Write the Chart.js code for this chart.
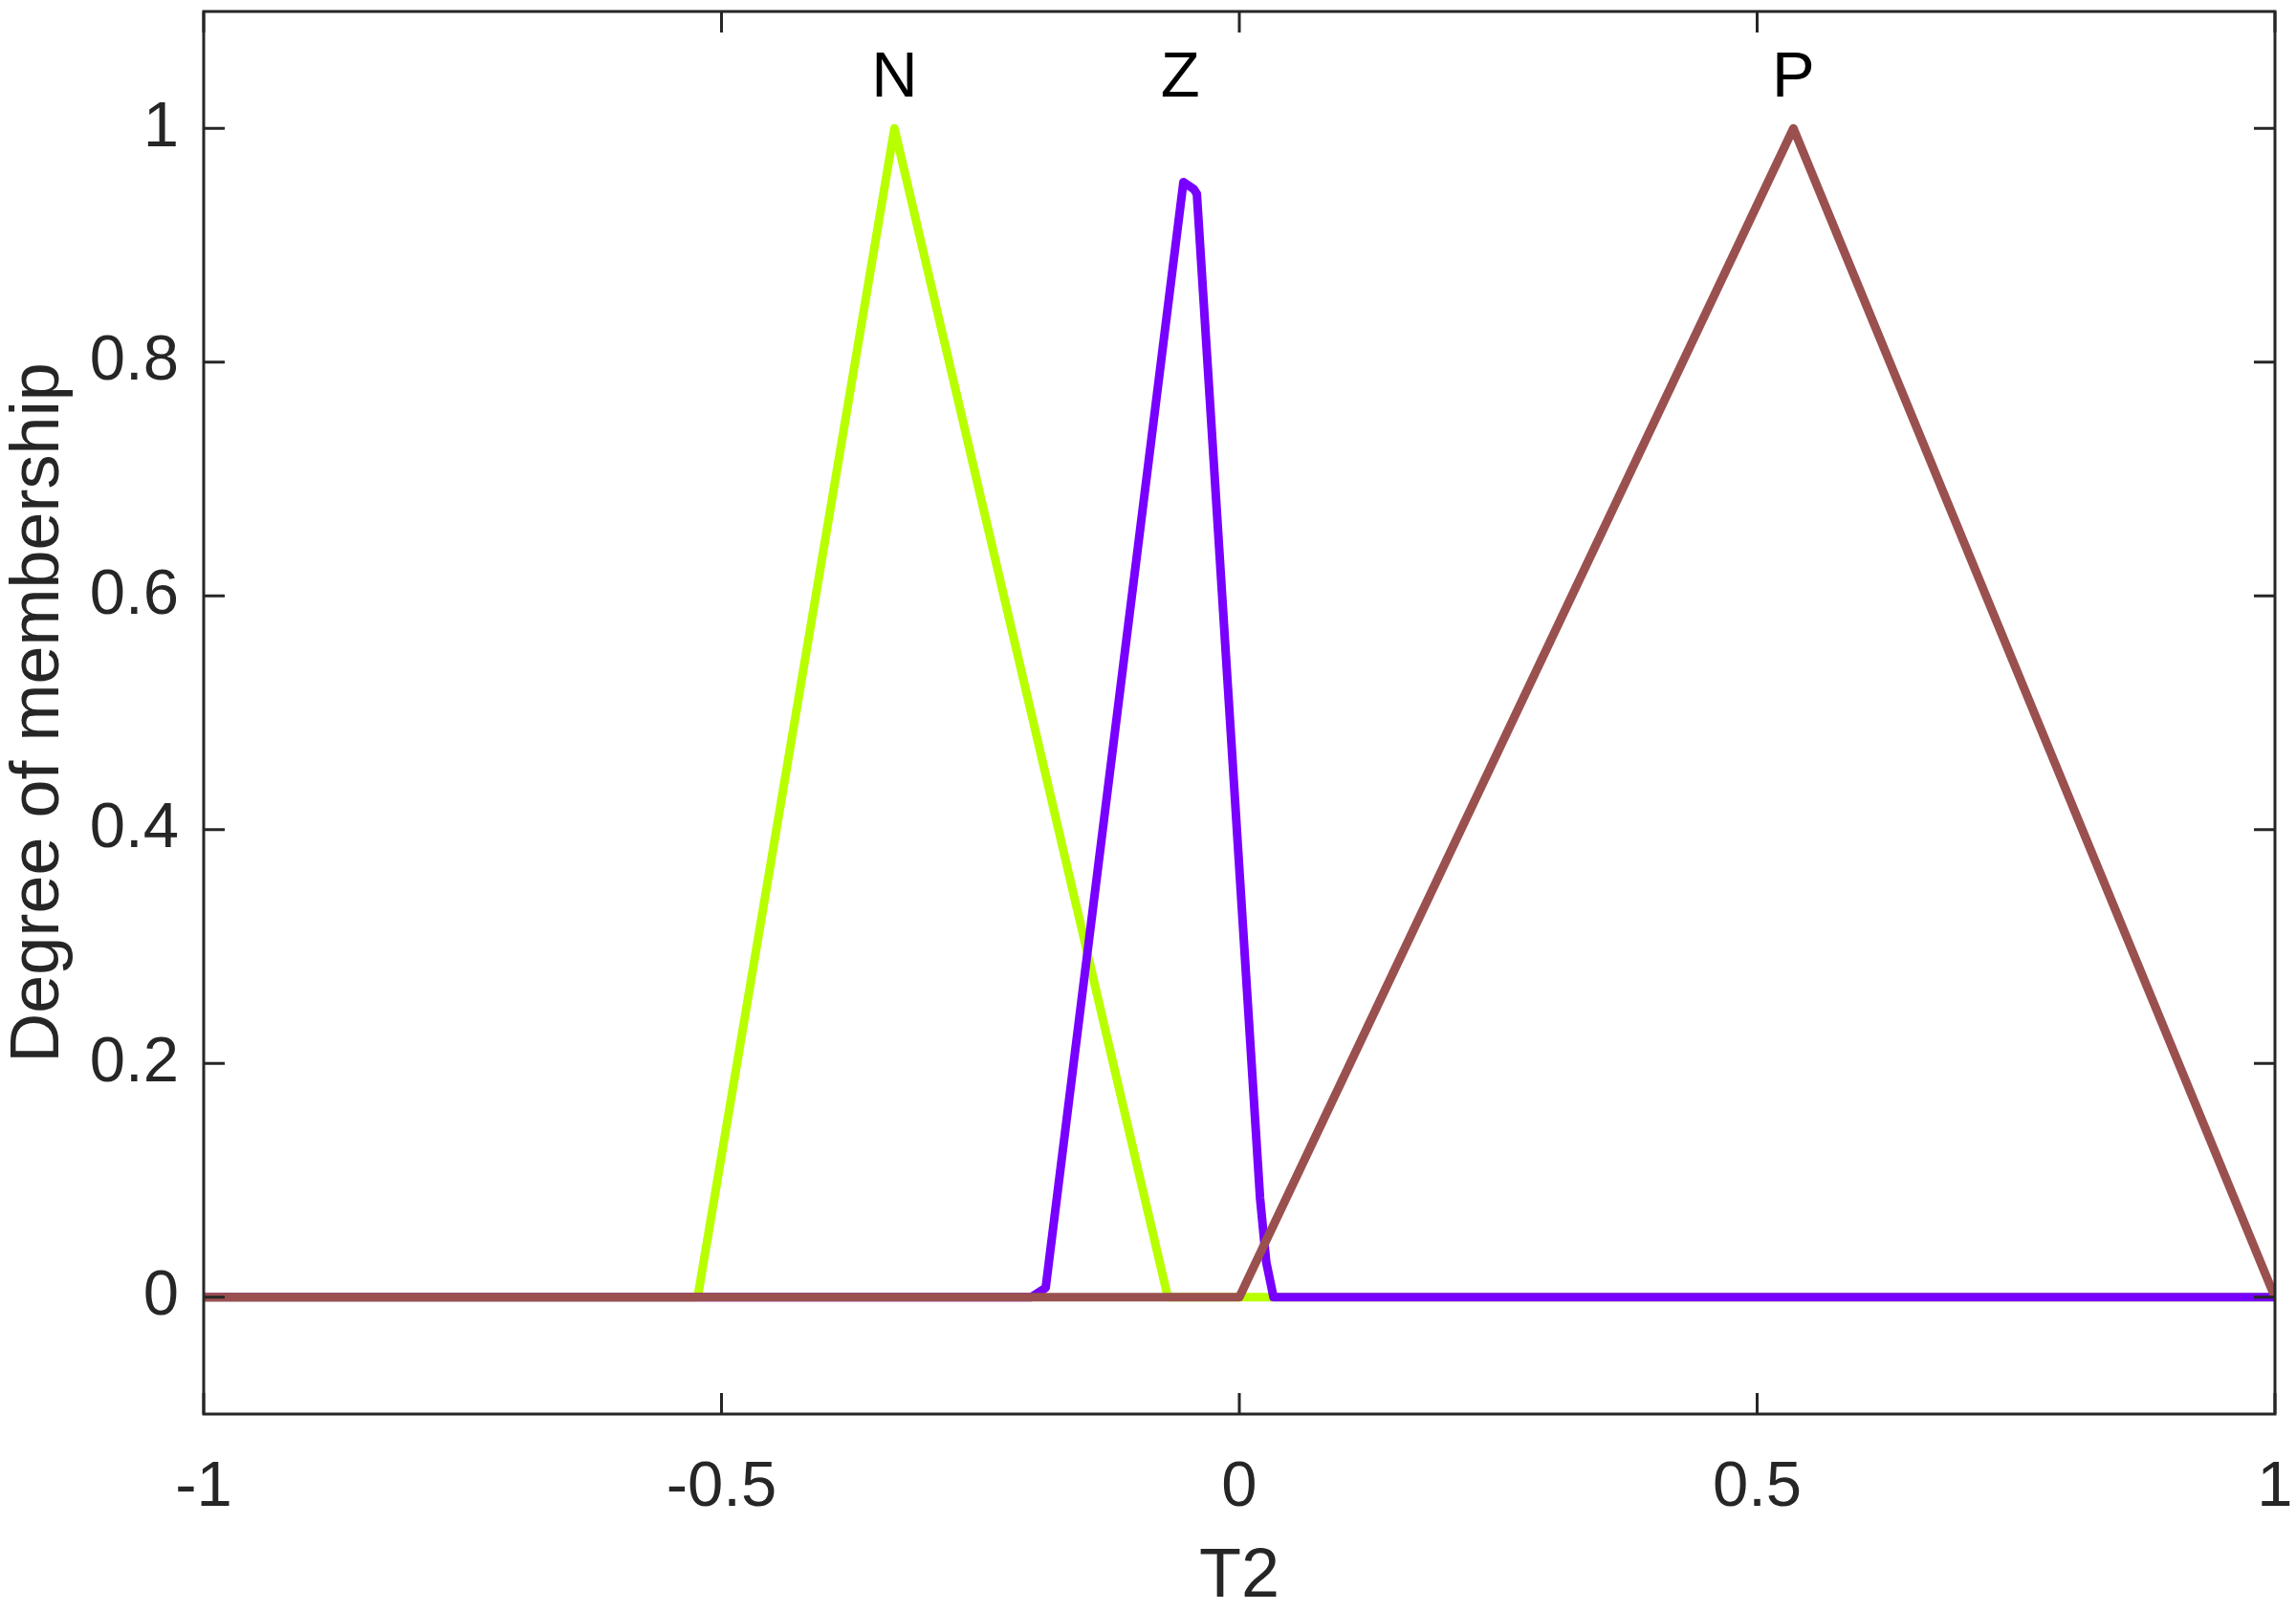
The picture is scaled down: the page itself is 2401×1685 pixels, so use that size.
<!DOCTYPE html>
<html>
<head>
<meta charset="utf-8">
<script src="https://cdn.jsdelivr.net/npm/chart.js@4/dist/chart.umd.min.js"></script>
<style>
    html, body { margin: 0; padding: 0; background: #fff; }
    canvas { display: block; }
</style>
</head>
<body>
<canvas id="mfChart" width="2401" height="1685"></canvas>
<script>
// membership functions
const nX = [-1, -0.523, -0.333, -0.069, 1];
const nY = [0, 0, 1, 0, 0];
const zX = [-1, -0.201, -0.187, -0.054, -0.044, -0.041, 0.020, 0.026, 0.033, 1];
const zY = [0, 0, 0.008, 0.954, 0.948, 0.944, 0.085, 0.03, 0, 0];
const pX = [-1, 0, 0.535, 1];
const pY = [0, 0, 1, 0];

// names drawn above the peaks
const mfNames = ['N', 'Z', 'P'];
const mfNameX = [-0.333, -0.057, 0.535];
const mfNameY = 1.027;

const xTicks = [-1, -0.5, 0, 0.5, 1];
const yTicks = [0, 0.2, 0.4, 0.6, 0.8, 1];

const axisColor = '#262626';
const fontFamily = '"Liberation Sans", Arial, Helvetica, sans-serif';

function toPoints(xs, ys) {
    return xs.map((x, i) => ({ x: x, y: ys[i] }));
}

// MATLAB style box with inward ticks, plus the N/Z/P names
const boxPlugin = {
    id: 'boxPlugin',
    afterDraw(chart) {
        const ctx = chart.ctx;
        const area = chart.chartArea;
        const xs = chart.scales.x;
        const ys = chart.scales.y;
        const tl = 22;
        ctx.save();
        ctx.strokeStyle = axisColor;
        ctx.lineWidth = 3;
        ctx.strokeRect(area.left, area.top, area.right - area.left, area.bottom - area.top);
        ctx.beginPath();
        xTicks.forEach(v => {
            const px = xs.getPixelForValue(v);
            ctx.moveTo(px, area.bottom); ctx.lineTo(px, area.bottom - tl);
            ctx.moveTo(px, area.top); ctx.lineTo(px, area.top + tl);
        });
        yTicks.forEach(v => {
            const py = ys.getPixelForValue(v);
            ctx.moveTo(area.left, py); ctx.lineTo(area.left + tl, py);
            ctx.moveTo(area.right, py); ctx.lineTo(area.right - tl, py);
        });
        ctx.stroke();

        ctx.fillStyle = '#000';
        ctx.font = '67px ' + fontFamily;
        ctx.textAlign = 'center';
        ctx.textBaseline = 'alphabetic';
        mfNames.forEach((name, i) => {
            ctx.fillText(name, xs.getPixelForValue(mfNameX[i]), ys.getPixelForValue(mfNameY));
        });
        ctx.restore();
    }
};

const lineStyle = {
    borderWidth: 9,
    pointRadius: 0,
    fill: false,
    tension: 0,
    borderJoinStyle: 'round',
    borderCapStyle: 'butt'
};

new Chart(document.getElementById('mfChart').getContext('2d'), {
    type: 'line',
    data: {
        datasets: [
            Object.assign({ label: 'N', data: toPoints(nX, nY), borderColor: '#b8ff00', order: 3 }, lineStyle),
            Object.assign({ label: 'Z', data: toPoints(zX, zY), borderColor: '#7700ff', order: 2 }, lineStyle),
            Object.assign({ label: 'P', data: toPoints(pX, pY), borderColor: '#9b5050', order: 1 }, lineStyle)
        ]
    },
    options: {
        responsive: false,
        devicePixelRatio: 1,
        animation: false,
        layout: { padding: { top: 12, right: 22, left: 0, bottom: 0 } },
        plugins: {
            legend: { display: false },
            tooltip: { enabled: false }
        },
        scales: {
            x: {
                type: 'linear',
                min: -1,
                max: 1,
                grid: { display: false, drawTicks: false },
                border: { display: false },
                afterBuildTicks: s => { s.ticks = xTicks.map(v => ({ value: v })); },
                afterFit: s => {
                    s.height = 206;
                    s.paddingLeft = 0;
                    s.paddingRight = 0;
                },
                ticks: {
                    color: axisColor,
                    padding: 37,
                    maxRotation: 0,
                    font: { family: fontFamily, size: 67 },
                    callback: v => String(v)
                },
                title: {
                    display: true,
                    text: 'T2',
                    color: axisColor,
                    padding: { top: 0, bottom: 2 },
                    font: { family: fontFamily, size: 72, lineHeight: 0.9 }
                }
            },
            y: {
                type: 'linear',
                min: -0.1,
                max: 1.1,
                grid: { display: false, drawTicks: false },
                border: { display: false },
                afterBuildTicks: s => { s.ticks = yTicks.map(v => ({ value: v })); },
                afterFit: s => {
                    s.width = 213;
                    s.paddingTop = 0;
                    s.paddingBottom = 0;
                },
                ticks: {
                    color: axisColor,
                    padding: 26,
                    font: { family: fontFamily, size: 67 },
                    callback: v => String(v)
                },
                title: {
                    display: true,
                    text: 'Degree of membership',
                    color: axisColor,
                    padding: { top: 5, bottom: 0 },
                    font: { family: fontFamily, size: 72, lineHeight: 1 }
                }
            }
        }
    },
    plugins: [boxPlugin]
});
</script>
</body>
</html>
